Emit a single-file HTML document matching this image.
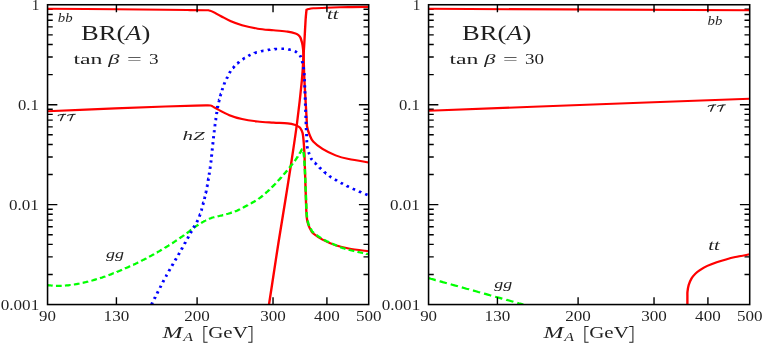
<!DOCTYPE html>
<html><head><meta charset="utf-8"><title>BR(A)</title>
<style>html,body{margin:0;padding:0;background:#fff;}svg{display:block}text{font-family:"Liberation Serif",serif;}</style></head>
<body>
<svg width="763" height="343" viewBox="0 0 763 343">
<rect width="763" height="343" fill="#fff"/>
<defs><filter id="gs" x="0" y="0" width="763" height="343" filterUnits="userSpaceOnUse" color-interpolation-filters="sRGB"><feColorMatrix type="saturate" values="0"/></filter><clipPath id="cl"><rect x="47.5" y="4.5" width="321" height="300"/></clipPath><clipPath id="cr"><rect x="428.5" y="4.5" width="321" height="300"/></clipPath></defs>
<path d="M47.55 104.68333333333334h9.8M368.7 104.68333333333334h-9.8 M47.55 204.61666666666667h9.8M368.7 204.61666666666667h-9.8 M47.55 74.60h5.2M368.7 74.60h-5.2 M47.55 57.00h5.2M368.7 57.00h-5.2 M47.55 44.52h5.2M368.7 44.52h-5.2 M47.55 34.83h5.2M368.7 34.83h-5.2 M47.55 26.92h5.2M368.7 26.92h-5.2 M47.55 20.23h5.2M368.7 20.23h-5.2 M47.55 14.43h5.2M368.7 14.43h-5.2 M47.55 9.32h5.2M368.7 9.32h-5.2 M47.55 174.53h5.2M368.7 174.53h-5.2 M47.55 156.94h5.2M368.7 156.94h-5.2 M47.55 144.45h5.2M368.7 144.45h-5.2 M47.55 134.77h5.2M368.7 134.77h-5.2 M47.55 126.85h5.2M368.7 126.85h-5.2 M47.55 120.16h5.2M368.7 120.16h-5.2 M47.55 114.37h5.2M368.7 114.37h-5.2 M47.55 109.26h5.2M368.7 109.26h-5.2 M47.55 274.47h5.2M368.7 274.47h-5.2 M47.55 256.87h5.2M368.7 256.87h-5.2 M47.55 244.38h5.2M368.7 244.38h-5.2 M47.55 234.70h5.2M368.7 234.70h-5.2 M47.55 226.79h5.2M368.7 226.79h-5.2 M47.55 220.10h5.2M368.7 220.10h-5.2 M47.55 214.30h5.2M368.7 214.30h-5.2 M47.55 209.19h5.2M368.7 209.19h-5.2" stroke="#000" stroke-width="1.4" fill="none"/>
<path d="M428.55 104.68333333333334h9.8M749.7 104.68333333333334h-9.8 M428.55 204.61666666666667h9.8M749.7 204.61666666666667h-9.8 M428.55 74.60h5.2M749.7 74.60h-5.2 M428.55 57.00h5.2M749.7 57.00h-5.2 M428.55 44.52h5.2M749.7 44.52h-5.2 M428.55 34.83h5.2M749.7 34.83h-5.2 M428.55 26.92h5.2M749.7 26.92h-5.2 M428.55 20.23h5.2M749.7 20.23h-5.2 M428.55 14.43h5.2M749.7 14.43h-5.2 M428.55 9.32h5.2M749.7 9.32h-5.2 M428.55 174.53h5.2M749.7 174.53h-5.2 M428.55 156.94h5.2M749.7 156.94h-5.2 M428.55 144.45h5.2M749.7 144.45h-5.2 M428.55 134.77h5.2M749.7 134.77h-5.2 M428.55 126.85h5.2M749.7 126.85h-5.2 M428.55 120.16h5.2M749.7 120.16h-5.2 M428.55 114.37h5.2M749.7 114.37h-5.2 M428.55 109.26h5.2M749.7 109.26h-5.2 M428.55 274.47h5.2M749.7 274.47h-5.2 M428.55 256.87h5.2M749.7 256.87h-5.2 M428.55 244.38h5.2M749.7 244.38h-5.2 M428.55 234.70h5.2M749.7 234.70h-5.2 M428.55 226.79h5.2M749.7 226.79h-5.2 M428.55 220.10h5.2M749.7 220.10h-5.2 M428.55 214.30h5.2M749.7 214.30h-5.2 M428.55 209.19h5.2M749.7 209.19h-5.2" stroke="#000" stroke-width="1.4" fill="none"/>
<g clip-path="url(#cl)"><g transform="scale(1.13,1)">
<path d="M42.04 111.30 C52.02 110.82 84.57 109.20 101.95 108.40 C119.32 107.60 134.45 106.97 146.28 106.50 C158.11 106.03 166.86 105.78 172.92 105.60 C178.98 105.42 180.43 105.42 182.65 105.40 C184.88 105.38 185.38 105.35 186.28 105.50 C187.18 105.65 186.90 105.60 188.05 106.30 C189.20 107.00 190.69 108.22 193.19 109.70 C195.68 111.18 199.51 113.63 203.01 115.20 C206.50 116.77 209.99 118.05 214.16 119.10 C218.33 120.15 223.41 120.92 228.05 121.50 C232.70 122.08 237.63 122.28 242.04 122.60 C246.45 122.92 251.28 123.00 254.51 123.40 C257.74 123.80 259.81 124.47 261.42 125.00 C263.02 125.53 263.42 126.07 264.16 126.60 C264.90 127.13 265.24 127.13 265.84 128.20 C266.45 129.27 267.32 130.87 267.79 133.00 C268.26 135.13 268.41 137.70 268.67 141.00 C268.94 144.30 269.20 148.80 269.38 152.80 C269.56 156.80 269.48 156.30 269.73 165.00 C269.99 173.70 270.65 197.17 270.88 205.00 C271.12 212.83 271.03 209.77 271.15 212.00 C271.27 214.23 271.40 216.63 271.59 218.40 C271.78 220.17 271.99 221.25 272.30 222.60 C272.61 223.95 272.98 225.23 273.45 226.50 C273.92 227.77 274.50 229.03 275.13 230.20 C275.77 231.37 275.55 231.93 277.26 233.50 C278.97 235.07 282.11 237.65 285.40 239.60 C288.69 241.55 293.13 243.72 296.99 245.20 C300.86 246.68 303.73 247.50 308.58 248.50 C313.44 249.50 323.19 250.75 326.11 251.20" fill="none" stroke="#ff0000" stroke-width="2.1" stroke-linejoin="round"/>
<path d="M42.04 8.80 C52.14 8.87 85.32 9.05 102.65 9.20 C119.99 9.35 135.10 9.55 146.02 9.70 C156.93 9.85 162.14 10.02 168.14 10.10 C174.14 10.18 179.23 10.14 182.04 10.20 C184.84 10.26 184.13 10.30 184.96 10.45 C185.78 10.60 186.25 10.77 186.99 11.10 C187.73 11.43 187.88 11.50 189.38 12.40 C190.88 13.30 193.53 15.02 196.02 16.50 C198.51 17.98 201.31 19.85 204.34 21.30 C207.36 22.75 210.21 23.97 214.16 25.20 C218.11 26.43 223.41 27.85 228.05 28.70 C232.70 29.55 237.63 29.82 242.04 30.30 C246.45 30.78 251.27 31.08 254.51 31.60 C257.76 32.12 259.88 32.80 261.50 33.40 C263.13 34.00 263.53 34.52 264.25 35.20 C264.97 35.88 265.34 36.28 265.84 37.50 C266.34 38.72 266.93 41.17 267.26 42.50 C267.58 43.83 267.57 43.52 267.79 45.50 C268.01 47.48 268.32 48.65 268.58 54.40 C268.85 60.15 268.91 69.07 269.38 80.00 C269.85 90.93 271.02 112.23 271.42 120.00 C271.81 127.77 271.37 124.20 271.77 126.60 C272.17 129.00 272.89 131.88 273.81 134.40 C274.72 136.92 275.32 139.28 277.26 141.70 C279.19 144.12 282.11 146.62 285.40 148.90 C288.69 151.18 293.13 153.70 296.99 155.40 C300.86 157.10 303.73 157.93 308.58 159.10 C313.44 160.27 323.19 161.85 326.11 162.40" fill="none" stroke="#ff0000" stroke-width="2.1" stroke-linejoin="round"/>
<path d="M238.05 304.50 C238.50 301.25 239.31 295.33 240.71 285.00 C242.11 274.67 244.54 256.25 246.46 242.50 C248.38 228.75 250.32 215.83 252.21 202.50 C254.10 189.17 256.00 175.83 257.79 162.50 C259.57 149.17 261.36 136.25 262.92 122.50 C264.48 108.75 266.21 91.35 267.17 80.00 C268.13 68.65 268.29 61.07 268.67 54.40 C269.06 47.73 269.17 45.78 269.47 40.00 C269.76 34.22 270.15 24.73 270.44 19.70 C270.74 14.67 271.11 11.45 271.24 9.80 C271.53 9.67 272.01 9.25 273.01 9.00 C274.01 8.75 274.62 8.52 277.26 8.30 C279.90 8.08 283.63 7.90 288.85 7.70 C294.07 7.50 302.37 7.23 308.58 7.10 C314.79 6.97 323.19 6.93 326.11 6.90" fill="none" stroke="#ff0000" stroke-width="2.1" stroke-linejoin="round"/>
<path d="M42.04 285.2L42.50 285.2L43.05 285.3L43.69 285.4L44.40 285.4L45.18 285.5L46.01 285.6L46.64 285.7M49.51 285.9L50.09 285.9L50.75 285.9L51.42 285.9L52.09 285.9L52.76 285.9L53.43 285.9L54.12 285.8L54.60 285.8M57.46 285.6L58.13 285.5L58.90 285.4L59.68 285.4L60.47 285.3L61.27 285.2L62.07 285.0L62.52 285.0M65.36 284.5L66.18 284.4L67.01 284.2L67.84 284.1L68.67 283.9L69.51 283.7L70.37 283.5L70.37 283.5M73.17 282.8L73.89 282.7L74.79 282.4L75.70 282.2L76.61 281.9L77.52 281.7L78.10 281.5M80.87 280.7L81.60 280.5L82.49 280.2L83.37 279.9L84.25 279.6L85.11 279.3L85.75 279.1M88.49 278.2L89.14 277.9L89.89 277.7L90.63 277.4L91.35 277.1L92.08 276.8L92.80 276.6L93.30 276.4M95.98 275.3L96.47 275.1L97.24 274.7L98.04 274.4L98.85 274.0L99.70 273.6L100.57 273.2L100.69 273.2M103.33 272.0L103.40 271.9L103.90 271.7L104.41 271.5L104.92 271.2L105.44 271.0L105.97 270.7L106.50 270.5L107.04 270.2L107.58 269.9L107.99 269.7M110.61 268.5L110.93 268.3L111.50 268.0L112.07 267.8L112.64 267.5L113.22 267.2L113.80 266.9L114.38 266.6L114.96 266.3L115.23 266.2M117.82 264.8L117.88 264.8L118.46 264.5L119.04 264.2L119.62 263.9L120.19 263.6L120.77 263.3L121.34 263.0L121.91 262.6L122.39 262.4M124.94 261.0L125.27 260.8L125.83 260.4L126.40 260.1L126.96 259.8L127.53 259.5L128.10 259.1L128.66 258.8L129.24 258.5L129.42 258.3M131.92 256.8L132.10 256.7L132.67 256.4L133.24 256.0L133.81 255.7L134.38 255.3L134.95 255.0L135.52 254.6L136.09 254.3L136.34 254.1M138.82 252.5L138.89 252.5L139.44 252.1L139.99 251.8L140.54 251.4L141.08 251.1L141.62 250.7L142.16 250.4L142.69 250.0L143.17 249.7M145.61 248.1L145.79 247.9L146.28 247.6L146.78 247.3L147.27 246.9L147.76 246.6L148.24 246.2L148.73 245.9L149.21 245.6L149.69 245.2L149.89 245.1M152.27 243.3L152.52 243.2L152.98 242.8L153.44 242.5L153.90 242.1L154.35 241.8L154.80 241.4L155.24 241.1L155.69 240.8L156.12 240.4L156.45 240.2M158.78 238.4L159.51 237.8L160.31 237.2L161.10 236.6L161.87 236.0L162.62 235.4L162.90 235.1M165.21 233.3L165.73 232.9L166.35 232.4L166.95 231.8L167.52 231.4L168.08 230.9L168.63 230.4L169.16 229.9L169.20 229.9M171.43 227.9L171.97 227.5L172.74 226.8L173.52 226.2L174.32 225.6L175.15 225.0L175.55 224.7M177.96 223.0L178.49 222.7L179.05 222.3L179.61 221.9L180.17 221.6L180.73 221.2L181.28 220.9L181.84 220.6L182.37 220.3M184.94 218.9L185.74 218.5L186.57 218.2L187.40 217.8L188.24 217.5L189.07 217.3L189.74 217.1M192.54 216.4L193.21 216.2L194.04 216.0L194.87 215.8L195.70 215.6L196.53 215.4L197.36 215.1L197.48 215.1M200.24 214.2L200.95 214.0L201.78 213.8L202.61 213.5L203.43 213.2L204.26 212.9L205.09 212.6L205.12 212.6M207.80 211.6L208.42 211.3L209.25 210.9L210.09 210.5L210.93 210.0L211.76 209.6L212.42 209.2M214.95 207.8L215.67 207.3L216.51 206.8L217.34 206.3L218.18 205.8L219.01 205.3L219.38 205.0M221.87 203.5L222.62 203.1L223.45 202.5L224.28 202.0L225.10 201.5L225.93 200.9L226.25 200.7M228.64 199.0L228.97 198.7L229.52 198.3L230.08 197.8L230.63 197.4L231.18 196.9L231.74 196.4L232.29 195.9L232.62 195.6M234.75 193.5L235.05 193.2L235.60 192.6L236.16 192.0L236.71 191.5L237.26 190.9L237.81 190.3L238.37 189.7L238.40 189.6M240.41 187.4L240.86 186.9L241.42 186.3L241.97 185.7L242.54 185.0L243.11 184.4L243.68 183.7L243.90 183.4M245.82 181.1L246.27 180.6L246.84 179.9L247.42 179.2L247.98 178.5L248.55 177.8L249.11 177.1L249.17 177.0M251.02 174.6L251.54 173.9L252.06 173.3L252.57 172.6L253.07 171.9L253.56 171.3L254.06 170.6L254.24 170.4M256.01 167.9L256.48 167.3L256.95 166.6L257.41 165.9L257.86 165.3L258.30 164.7L258.73 164.0L259.07 163.5M260.76 161.0L261.25 160.3L261.74 159.5L262.21 158.7L262.64 158.0L263.05 157.3L263.43 156.7L263.56 156.4M265.00 153.7L265.61 152.6L266.21 151.5L266.66 150.5L266.99 149.8L267.24 149.3L267.48 149.1L267.58 149.1M268.53 151.9L268.62 152.6L268.74 153.6L268.85 154.4L268.95 155.3L269.05 156.3L269.14 157.4M269.33 160.5L269.37 161.1L269.42 162.1L269.47 163.2L269.53 164.4L269.59 165.7L269.60 166.0M269.73 169.0L269.76 169.8L269.80 170.7L269.84 171.7L269.88 172.8L269.92 173.8L269.95 174.5M270.06 177.6L270.09 178.2L270.13 179.4L270.17 180.6L270.22 181.7L270.26 182.9L270.27 183.1M270.38 186.2L270.39 186.5L270.43 187.7L270.48 188.9L270.52 190.0L270.56 191.2L270.58 191.7M270.69 194.8L270.72 195.6L270.76 196.7L270.80 197.7L270.83 198.7L270.86 199.6L270.89 200.3M271.00 203.4L271.04 204.4L271.08 205.6L271.12 206.6L271.15 207.5L271.18 208.2L271.20 208.8L271.21 208.9M271.33 212.0L271.38 213.0L271.44 213.9L271.49 214.9L271.56 215.8L271.63 216.7L271.71 217.5L271.71 217.5M272.19 220.6L272.38 221.4L272.59 222.3L272.82 223.2L273.06 224.0L273.32 224.9L273.61 225.7L273.65 225.8M274.88 228.6L275.26 229.3L275.64 230.1L275.90 230.7L276.22 231.3L276.79 232.1L277.79 233.0M280.02 235.0L280.44 235.3L281.08 235.9L281.74 236.4L282.41 236.9L283.10 237.4L283.80 237.9L284.17 238.2M286.62 239.8L287.13 240.1L287.91 240.5L288.72 241.0L289.54 241.4L290.37 241.8L291.19 242.2M293.80 243.5L294.64 243.9L295.58 244.4L296.43 244.8L297.19 245.2L297.86 245.6L298.40 245.9M301.01 247.2L301.42 247.3L301.98 247.6L302.61 247.8L303.30 248.1L304.03 248.3L304.80 248.6L305.60 248.8L305.83 248.9M308.60 249.7L309.37 250.0L310.27 250.2L311.18 250.5L312.08 250.7L312.98 251.0L313.53 251.1M316.32 251.9L316.70 252.0L317.38 252.1L318.07 252.3L318.77 252.5L319.47 252.6L320.16 252.8L320.84 253.0L321.29 253.1M324.09 253.7L324.21 253.8L324.47 253.8L324.72 253.9L324.96 253.9L325.18 254.0L325.39 254.0L325.59 254.1L325.78 254.1L325.95 254.2L326.11 254.2" fill="none" stroke="#00ff00" stroke-width="2.2" stroke-linecap="butt" stroke-linejoin="round"/>
<path d="M134.07 304.5L134.23 304.1L134.40 303.8L134.59 303.3L134.79 302.9L135.01 302.4L135.01 302.4M136.56 298.9L136.80 298.4L137.09 297.7L137.40 297.1L137.49 296.8M139.04 293.4L139.34 292.7L139.68 291.9L139.98 291.3M141.55 287.8L141.79 287.3L142.15 286.5L142.50 285.7M144.09 282.3L144.27 281.9L144.62 281.1L144.96 280.4L145.06 280.2M146.70 276.7L146.93 276.3L147.25 275.6L147.58 274.9L147.71 274.7M149.41 271.3L149.60 270.9L149.94 270.2L150.28 269.5L150.45 269.2M152.18 265.8L152.35 265.5L152.69 264.8L153.04 264.2L153.23 263.8M154.98 260.4L155.09 260.2L155.43 259.5L155.77 258.9L156.04 258.4M157.77 255.0L158.08 254.4L158.40 253.8L158.71 253.1L158.82 252.9M160.52 249.6L160.57 249.5L160.88 248.8L161.18 248.2L161.49 247.6L161.54 247.5M163.22 244.1L163.34 243.8L163.65 243.2L163.95 242.6L164.24 242.0M165.91 238.6L166.02 238.4L166.31 237.8L166.59 237.2L166.87 236.6L166.92 236.5M168.58 233.1L168.71 232.9L168.96 232.4L169.20 231.9L169.43 231.4L169.60 231.1M171.28 227.7L171.43 227.4L171.59 227.1L171.74 226.7L171.89 226.5L172.04 226.2L172.18 225.9L172.31 225.7L172.34 225.6M174.13 222.3L174.28 221.9L174.44 221.6L174.60 221.2L174.77 220.9L174.95 220.4L175.07 220.2M176.42 216.6L176.54 216.2L176.68 215.8L176.82 215.4L176.96 214.9L177.10 214.4L177.11 214.4M178.09 210.7L178.14 210.6L178.23 210.2L178.33 209.8L178.42 209.4L178.52 209.0L178.62 208.6L178.65 208.5M179.54 204.8L179.60 204.6L179.72 204.1L179.83 203.6L179.95 203.1L180.06 202.6L180.07 202.6M180.90 198.9L181.00 198.4L181.12 197.8L181.24 197.3L181.35 196.7L181.38 196.6M182.13 192.9L182.14 192.9L182.24 192.3L182.35 191.8L182.45 191.2L182.55 190.7L182.56 190.6M183.21 186.9L183.25 186.7L183.35 186.1L183.45 185.5L183.54 184.8L183.58 184.6M184.16 180.9L184.22 180.5L184.31 179.9L184.40 179.2L184.49 178.6L184.50 178.6M185.03 174.8L185.12 174.2L185.20 173.6L185.28 173.0L185.34 172.6M185.84 168.8L185.91 168.2L185.99 167.7L186.06 167.1L186.13 166.5L186.13 166.5M186.58 162.7L186.62 162.4L186.67 161.9L186.73 161.4L186.78 160.9L186.82 160.4M187.19 156.7L187.19 156.6L187.23 156.2L187.27 155.7L187.31 155.3L187.35 154.8L187.39 154.4M187.72 150.6L187.75 150.3L187.79 149.8L187.83 149.3L187.87 148.9L187.92 148.4L187.93 148.3M188.29 144.5L188.34 144.1L188.39 143.6L188.43 143.1L188.48 142.5L188.51 142.2M188.88 138.4L188.92 137.9L188.97 137.4L189.02 136.9L189.07 136.4L189.10 136.1M189.47 132.4L189.49 132.1L189.54 131.7L189.58 131.2L189.62 130.8L189.67 130.4L189.70 130.1M190.10 126.3L190.13 126.0L190.16 125.7L190.19 125.4L190.23 125.2L190.26 124.9L190.29 124.6L190.32 124.4L190.35 124.1L190.36 124.0M190.85 120.2L190.89 120.0L190.95 119.5L191.02 119.0L191.08 118.5L191.15 118.0L191.15 118.0M191.64 114.2L191.66 114.0L191.69 113.8L191.73 113.5L191.77 113.2L191.81 112.9L191.85 112.6L191.89 112.3L191.93 112.0L191.93 111.9M192.47 108.2L192.51 107.9L192.56 107.6L192.60 107.3L192.65 107.1L192.70 106.8L192.74 106.5L192.79 106.2L192.84 106.0L192.85 105.9M193.56 102.2L193.59 102.0L193.65 101.7L193.70 101.5L193.76 101.2L193.81 101.0L193.87 100.7L193.92 100.4L193.98 100.2L194.03 99.9L194.04 99.9M194.91 96.2L194.96 96.0L195.02 95.7L195.09 95.5L195.16 95.2L195.23 94.9L195.31 94.6L195.38 94.3L195.45 94.0L195.47 94.0M196.47 90.3L196.49 90.2L196.58 89.9L196.66 89.6L196.74 89.3L196.82 89.1L196.90 88.8L196.99 88.5L197.07 88.2L197.10 88.1M198.23 84.5L198.31 84.2L198.43 83.9L198.55 83.5L198.65 83.2L198.76 82.9L198.86 82.6L198.97 82.4L199.00 82.3M200.52 78.8L200.61 78.6L200.78 78.2L200.96 77.8L201.13 77.4L201.31 77.0L201.42 76.7M202.95 73.2L203.06 73.0L203.18 72.8L203.30 72.5L203.42 72.3L203.54 72.1L203.67 71.8L203.80 71.6L203.93 71.4L204.03 71.2M206.16 68.0L206.20 68.0L206.37 67.8L206.54 67.6L206.71 67.3L206.88 67.1L207.06 66.9L207.23 66.7L207.41 66.4L207.58 66.2M210.12 63.4L210.15 63.4L210.37 63.2L210.58 63.0L210.80 62.7L211.02 62.5L211.24 62.3L211.47 62.1L211.69 61.9L211.79 61.8M214.71 59.4L214.90 59.3L215.16 59.0L215.43 58.8L215.70 58.6L215.97 58.4L216.25 58.2L216.53 58.0L216.55 58.0M219.71 55.9L219.99 55.7L220.29 55.6L220.59 55.4L220.89 55.2L221.19 55.0L221.49 54.9L221.70 54.8M225.14 53.2L225.20 53.1L225.52 53.0L225.84 52.9L226.17 52.8L226.50 52.6L226.83 52.5L227.16 52.4L227.30 52.4M230.95 51.3L231.23 51.2L231.57 51.2L231.91 51.1L232.25 51.0L232.59 50.9L232.93 50.8L233.19 50.8M236.91 50.0L237.22 49.9L237.54 49.9L237.87 49.8L238.19 49.8L238.51 49.7L238.84 49.7L239.17 49.6L239.17 49.6M242.95 49.2L243.07 49.1L243.38 49.1L243.70 49.1L244.02 49.1L244.33 49.0L244.64 49.0L244.95 49.0L245.24 49.0M249.03 48.8L249.36 48.8L249.82 48.8L250.27 48.8L250.70 48.8L251.11 48.8L251.33 48.8M255.10 49.3L255.41 49.4L255.73 49.4L256.05 49.5L256.37 49.6L256.70 49.7L257.02 49.8L257.33 49.8L257.33 49.8M260.88 51.2L261.11 51.3L261.37 51.5L261.62 51.6L261.88 51.8L262.12 52.0L262.37 52.2L262.61 52.4L262.77 52.5M265.34 55.3L265.52 55.6L265.69 55.9L265.86 56.2L266.03 56.6L266.19 57.0L266.33 57.3M267.36 61.0L267.41 61.2L267.47 61.5L267.53 61.8L267.59 62.1L267.65 62.4L267.70 62.6L267.76 62.9L267.82 63.2L267.82 63.2M268.44 67.0L268.46 67.1L268.50 67.4L268.54 67.7L268.58 68.0L268.62 68.3L268.66 68.5L268.70 68.8L268.73 69.0L268.76 69.2L268.77 69.3M269.17 73.1L269.18 73.3L269.20 73.6L269.21 73.9L269.23 74.3L269.25 74.7L269.26 75.1L269.28 75.3M269.43 79.1L269.44 79.3L269.47 80.0L269.50 80.7L269.53 81.4M269.66 85.2L269.66 85.3L269.70 86.4L269.74 87.5L269.74 87.5M269.86 91.3L269.89 92.2L269.93 93.5L269.93 93.6M270.05 97.4L270.09 98.7L270.12 99.7M270.23 103.5L270.25 104.1L270.29 105.4L270.30 105.8M270.42 109.6L270.45 110.7L270.48 111.9M270.60 115.7L270.63 116.7L270.66 117.8L270.67 118.0M270.78 121.8L270.78 121.9L270.81 122.7L270.84 123.5L270.86 124.1M270.99 127.9L270.99 128.2L271.01 128.5L271.02 128.9L271.03 129.2L271.04 129.5L271.05 129.7L271.06 130.0L271.07 130.2L271.07 130.2M271.28 134.0L271.28 134.1L271.29 134.4L271.30 134.7L271.31 135.0L271.32 135.3L271.33 135.7L271.34 136.0L271.35 136.3M271.47 140.1L271.47 140.1L271.49 140.5L271.50 140.8L271.51 141.2L271.52 141.5L271.54 141.8L271.55 142.2L271.56 142.4M271.83 146.2L271.86 146.5L271.91 146.8L271.96 147.2L272.01 147.5L272.07 147.9L272.12 148.2L272.18 148.4L272.19 148.5M273.18 152.1L273.25 152.4L273.33 152.7L273.42 153.0L273.50 153.3L273.59 153.6L273.68 153.9L273.77 154.2L273.81 154.3M275.18 157.9L275.34 158.3L275.49 158.6L275.63 159.0L275.81 159.3L276.04 159.7L276.20 159.9M278.63 162.9L278.71 162.9L278.94 163.2L279.19 163.5L279.45 163.8L279.71 164.1L279.98 164.4L280.15 164.6M282.69 167.4L282.75 167.5L283.09 167.8L283.43 168.2L283.78 168.6L284.13 169.0L284.25 169.1M286.90 171.8L287.04 172.0L287.42 172.3L287.79 172.7L288.17 173.1L288.54 173.4L288.56 173.4M291.42 175.9L291.52 176.0L291.89 176.3L292.26 176.6L292.64 176.9L293.02 177.2L293.24 177.3M296.34 179.5L296.52 179.6L296.92 179.9L297.32 180.2L297.72 180.4L298.13 180.7L298.26 180.8M301.50 182.8L301.85 183.0L302.27 183.2L302.70 183.5L303.12 183.7L303.48 183.9M306.78 185.8L307.00 186.0L307.43 186.2L307.88 186.4L308.34 186.7L308.79 186.9M312.16 188.7L312.37 188.8L312.91 189.1L313.45 189.3L313.99 189.6L314.22 189.7M317.64 191.4L317.79 191.5L318.32 191.7L318.84 192.0L319.36 192.2L319.71 192.4M323.15 194.0L323.53 194.2L323.92 194.4L324.29 194.5L324.65 194.7L324.98 194.9L325.23 195.0" fill="none" stroke="#0000ff" stroke-width="2.6" stroke-linecap="butt" stroke-linejoin="round"/>
</g></g>
<g clip-path="url(#cr)"><g transform="scale(1.13,1)">
<path d="M379.20 278.1L381.30 278.8L383.40 279.4L385.50 280.1L385.59 280.1M389.03 281.2L389.69 281.4L391.79 282.1L393.88 282.7L395.42 283.2M398.85 284.3L400.18 284.7L402.27 285.4L404.37 286.0L405.24 286.3M408.68 287.4L410.66 288.0L412.76 288.7L414.86 289.3L415.07 289.4M418.50 290.5L419.05 290.6L421.15 291.3L423.25 292.0L424.89 292.5M428.33 293.6L429.54 293.9L431.64 294.6L433.73 295.3L434.72 295.6M438.15 296.7L440.03 297.2L442.12 297.9L444.22 298.6L444.54 298.7M447.98 299.7L448.42 299.9L450.51 300.5L452.61 301.2L454.37 301.8M457.80 302.8L458.90 303.2L461.00 303.8L463.10 304.5" fill="none" stroke="#00ff00" stroke-width="2.2" stroke-linecap="butt" stroke-linejoin="round"/>
<path d="M379.20 110.80 C400.52 109.87 459.73 107.20 507.08 105.20 C554.42 103.20 637.24 99.87 663.27 98.80" fill="none" stroke="#ff0000" stroke-width="2.1" stroke-linejoin="round"/>
<path d="M379.20 8.80 L663.27 10.30" fill="none" stroke="#ff0000" stroke-width="2.1" stroke-linejoin="round"/>
<path d="M608.32 304.50 C608.32 303.08 608.30 298.13 608.32 296.00 C608.33 293.87 608.22 293.52 608.41 291.70 C608.60 289.88 608.88 287.28 609.47 285.10 C610.06 282.92 610.99 280.47 611.95 278.60 C612.91 276.73 613.98 275.30 615.22 273.90 C616.46 272.50 617.60 271.53 619.38 270.20 C621.17 268.87 623.45 267.23 625.93 265.90 C628.41 264.57 631.49 263.28 634.25 262.20 C637.01 261.12 639.73 260.25 642.48 259.40 C645.22 258.55 647.24 257.95 650.71 257.10 C654.17 256.25 661.18 254.77 663.27 254.30" fill="none" stroke="#ff0000" stroke-width="2.1" stroke-linejoin="round"/>
</g></g>
<path d="M116.42 4.75v7.4M116.42 304.55v-7.4 M197.10 4.75v7.4M197.10 304.55v-7.4 M273.03 4.75v7.4M273.03 304.55v-7.4 M326.91 4.75v7.4M326.91 304.55v-7.4" stroke="#000" stroke-width="1.4" fill="none"/>
<path d="M497.42 4.75v7.4M497.42 304.55v-7.4 M578.10 4.75v7.4M578.10 304.55v-7.4 M654.03 4.75v7.4M654.03 304.55v-7.4 M707.91 4.75v7.4M707.91 304.55v-7.4" stroke="#000" stroke-width="1.4" fill="none"/>
<rect x="47.55" y="4.75" width="321.15" height="299.8" fill="none" stroke="#000" stroke-width="1.55"/>
<rect x="428.55" y="4.75" width="321.15" height="299.8" fill="none" stroke="#000" stroke-width="1.55"/>
<g opacity="0.87" filter="url(#gs)">
<text x="39.3" y="9.8" font-size="14.2" text-anchor="end" textLength="7.6" lengthAdjust="spacingAndGlyphs" fill="#000">1</text>
<text x="38.8" y="109.7" font-size="14.2" text-anchor="end" textLength="20.8" lengthAdjust="spacingAndGlyphs" fill="#000">0.1</text>
<text x="38.8" y="209.7" font-size="14.2" text-anchor="end" textLength="29.8" lengthAdjust="spacingAndGlyphs" fill="#000">0.01</text>
<text x="39.2" y="309.5" font-size="14.2" text-anchor="end" textLength="38.5" lengthAdjust="spacingAndGlyphs" fill="#000">0.001</text>
<text x="47.5" y="321.3" font-size="14.2" text-anchor="middle" textLength="16.9" lengthAdjust="spacingAndGlyphs" fill="#000">90</text>
<text x="116.4" y="321.3" font-size="14.2" text-anchor="middle" textLength="25.6" lengthAdjust="spacingAndGlyphs" fill="#000">130</text>
<text x="197.1" y="321.3" font-size="14.2" text-anchor="middle" textLength="25.6" lengthAdjust="spacingAndGlyphs" fill="#000">200</text>
<text x="273.0" y="321.3" font-size="14.2" text-anchor="middle" textLength="25.6" lengthAdjust="spacingAndGlyphs" fill="#000">300</text>
<text x="326.9" y="321.3" font-size="14.2" text-anchor="middle" textLength="25.6" lengthAdjust="spacingAndGlyphs" fill="#000">400</text>
<text x="368.7" y="321.3" font-size="14.2" text-anchor="middle" textLength="25.6" lengthAdjust="spacingAndGlyphs" fill="#000">500</text>
<text x="162.6" y="337.8" font-size="16.5" font-style="italic" textLength="20" lengthAdjust="spacingAndGlyphs">M</text>
<text x="183.2" y="341.1" font-size="11.6" font-style="italic" textLength="9.8" lengthAdjust="spacingAndGlyphs">A</text>
<text x="208.2" y="337.8" font-size="16.5" textLength="39.6" lengthAdjust="spacingAndGlyphs">GeV</text>
<path d="M207.6 326.4h-3.7v15.8h3.7M248.2 326.4h3.7v15.8h-3.7" fill="none" stroke="#000" stroke-width="1.05"/>
<text x="81" y="40" font-size="21.5" textLength="69.5" lengthAdjust="spacingAndGlyphs">BR(<tspan font-style="italic">A</tspan>)</text>
<text x="420.3" y="9.8" font-size="14.2" text-anchor="end" textLength="7.6" lengthAdjust="spacingAndGlyphs" fill="#000">1</text>
<text x="419.8" y="109.7" font-size="14.2" text-anchor="end" textLength="20.8" lengthAdjust="spacingAndGlyphs" fill="#000">0.1</text>
<text x="419.8" y="209.7" font-size="14.2" text-anchor="end" textLength="29.8" lengthAdjust="spacingAndGlyphs" fill="#000">0.01</text>
<text x="420.2" y="309.5" font-size="14.2" text-anchor="end" textLength="38.5" lengthAdjust="spacingAndGlyphs" fill="#000">0.001</text>
<text x="428.6" y="321.3" font-size="14.2" text-anchor="middle" textLength="16.9" lengthAdjust="spacingAndGlyphs" fill="#000">90</text>
<text x="497.4" y="321.3" font-size="14.2" text-anchor="middle" textLength="25.6" lengthAdjust="spacingAndGlyphs" fill="#000">130</text>
<text x="578.1" y="321.3" font-size="14.2" text-anchor="middle" textLength="25.6" lengthAdjust="spacingAndGlyphs" fill="#000">200</text>
<text x="654.0" y="321.3" font-size="14.2" text-anchor="middle" textLength="25.6" lengthAdjust="spacingAndGlyphs" fill="#000">300</text>
<text x="707.9" y="321.3" font-size="14.2" text-anchor="middle" textLength="25.6" lengthAdjust="spacingAndGlyphs" fill="#000">400</text>
<text x="749.7" y="321.3" font-size="14.2" text-anchor="middle" textLength="25.6" lengthAdjust="spacingAndGlyphs" fill="#000">500</text>
<text x="543.6" y="337.8" font-size="16.5" font-style="italic" textLength="20" lengthAdjust="spacingAndGlyphs">M</text>
<text x="564.2" y="341.1" font-size="11.6" font-style="italic" textLength="9.8" lengthAdjust="spacingAndGlyphs">A</text>
<text x="589.2" y="337.8" font-size="16.5" textLength="39.6" lengthAdjust="spacingAndGlyphs">GeV</text>
<path d="M588.6 326.4h-3.7v15.8h3.7M629.2 326.4h3.7v15.8h-3.7" fill="none" stroke="#000" stroke-width="1.05"/>
<text x="462.0" y="40" font-size="21.5" textLength="69.5" lengthAdjust="spacingAndGlyphs">BR(<tspan font-style="italic">A</tspan>)</text>
<text x="73.4" y="64" font-size="15.5" text-anchor="start" textLength="29.0" lengthAdjust="spacingAndGlyphs" fill="#000">tan</text>
<text x="108.3" y="64" font-size="15.5" text-anchor="start" textLength="11.2" lengthAdjust="spacingAndGlyphs" style="font-style:italic" fill="#000">β</text>
<text x="126.9" y="64" font-size="15.5" text-anchor="start" textLength="14.8" lengthAdjust="spacingAndGlyphs" fill="#000">=</text>
<text x="149.0" y="64" font-size="15.5" text-anchor="start" textLength="9.6" lengthAdjust="spacingAndGlyphs" fill="#000">3</text>
<text x="449.4" y="64" font-size="15.5" text-anchor="start" textLength="29.0" lengthAdjust="spacingAndGlyphs" fill="#000">tan</text>
<text x="484.3" y="64" font-size="15.5" text-anchor="start" textLength="11.2" lengthAdjust="spacingAndGlyphs" style="font-style:italic" fill="#000">β</text>
<text x="502.9" y="64" font-size="15.5" text-anchor="start" textLength="14.8" lengthAdjust="spacingAndGlyphs" fill="#000">=</text>
<text x="525.0" y="64" font-size="15.5" text-anchor="start" textLength="19.0" lengthAdjust="spacingAndGlyphs" fill="#000">30</text>
<text x="57.8" y="22" font-size="12.3" text-anchor="start" textLength="14.8" lengthAdjust="spacingAndGlyphs" style="font-style:italic" fill="#000">bb</text>
<text x="327" y="19.1" font-size="14.5" text-anchor="start" textLength="11.6" lengthAdjust="spacingAndGlyphs" style="font-style:italic" fill="#000">tt</text>
<path d="M57.85 116.10C58.20 115.05 58.80 114.75 60.00 114.70L66.10 114.15" fill="none" stroke="#000" stroke-width="1.05"/><path d="M63.40 114.45L60.60 120.55" fill="none" stroke="#000" stroke-width="1.35" stroke-linecap="round"/>
<path d="M67.40 116.10C67.75 115.05 68.35 114.75 69.55 114.70L75.65 114.15" fill="none" stroke="#000" stroke-width="1.05"/><path d="M72.95 114.45L70.15 120.55" fill="none" stroke="#000" stroke-width="1.35" stroke-linecap="round"/>
<text x="182.6" y="140.1" font-size="12.6" text-anchor="start" textLength="22.2" lengthAdjust="spacingAndGlyphs" style="font-style:italic" fill="#000">hZ</text>
<text x="105.9" y="258.3" font-size="12.6" text-anchor="start" textLength="18" lengthAdjust="spacingAndGlyphs" style="font-style:italic" fill="#000">gg</text>
<text x="707.6" y="25" font-size="12.3" text-anchor="start" textLength="14.8" lengthAdjust="spacingAndGlyphs" style="font-style:italic" fill="#000">bb</text>
<path d="M707.95 106.80C708.30 105.75 708.90 105.45 710.10 105.40L716.20 104.85" fill="none" stroke="#000" stroke-width="1.05"/><path d="M713.50 105.15L710.70 111.25" fill="none" stroke="#000" stroke-width="1.35" stroke-linecap="round"/>
<path d="M717.45 106.80C717.80 105.75 718.40 105.45 719.60 105.40L725.70 104.85" fill="none" stroke="#000" stroke-width="1.05"/><path d="M723.00 105.15L720.20 111.25" fill="none" stroke="#000" stroke-width="1.35" stroke-linecap="round"/>
<text x="708.3" y="249.5" font-size="14.5" text-anchor="start" textLength="11.6" lengthAdjust="spacingAndGlyphs" style="font-style:italic" fill="#000">tt</text>
<text x="494.3" y="288.1" font-size="12.6" text-anchor="start" textLength="18" lengthAdjust="spacingAndGlyphs" style="font-style:italic" fill="#000">gg</text>
</g>
</svg>
</body></html>
